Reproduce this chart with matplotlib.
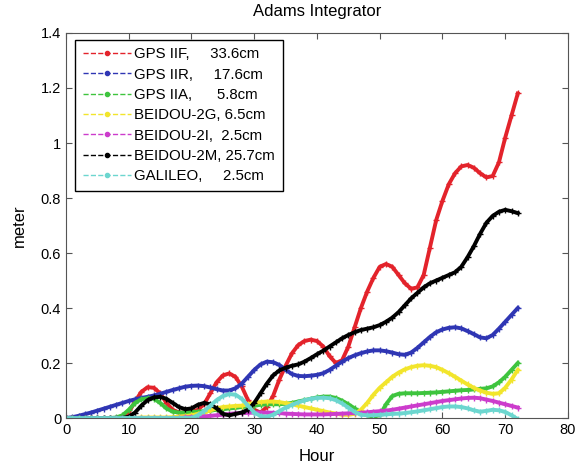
import numpy as np
import matplotlib
matplotlib.use("Agg")
import matplotlib.pyplot as plt
from matplotlib.lines import Line2D
from matplotlib.ticker import FormatStrFormatter

plt.rcParams['font.family'] = ['Liberation Sans', 'DejaVu Sans']

# hourly samples
hours = np.arange(0, 73)

gps_iif = [0, 0, 0, 0, 0, 0, 0, 0, 0, 0.005,
           0.02, 0.06, 0.095, 0.112, 0.11, 0.09, 0.055, 0.03, 0.02, 0.02,
           0.022, 0.03, 0.05, 0.09, 0.13, 0.155, 0.162, 0.15, 0.115, 0.065,
           0.03, 0.02, 0.04, 0.08, 0.14, 0.19, 0.235, 0.265, 0.28, 0.285,
           0.28, 0.26, 0.225, 0.2, 0.21, 0.26, 0.33, 0.40, 0.46, 0.51,
           0.55, 0.56, 0.55, 0.52, 0.49, 0.47, 0.475, 0.52, 0.62, 0.72,
           0.79, 0.85, 0.89, 0.915, 0.92, 0.91, 0.89, 0.875, 0.88, 0.93,
           1.02, 1.10, 1.18]

gps_iir = [0, 0.003, 0.008, 0.014, 0.02, 0.027, 0.034, 0.041, 0.048, 0.055,
           0.062, 0.068, 0.073, 0.077, 0.082, 0.088, 0.095, 0.102, 0.108, 0.114,
           0.117, 0.118, 0.116, 0.111, 0.105, 0.1, 0.1, 0.108, 0.125, 0.15,
           0.175, 0.195, 0.205, 0.203, 0.193, 0.175, 0.16, 0.153, 0.152, 0.154,
           0.157, 0.163, 0.175, 0.19, 0.205, 0.218, 0.228, 0.236, 0.242, 0.246,
           0.246, 0.243, 0.238, 0.232, 0.23, 0.238, 0.255, 0.275, 0.295, 0.312,
           0.322, 0.328, 0.33, 0.326, 0.316, 0.305, 0.293, 0.29, 0.302, 0.325,
           0.35, 0.375, 0.40]

gps_iia = [0, 0, 0, 0, 0, 0, 0, 0, 0.002, 0.01,
           0.03, 0.055, 0.068, 0.072, 0.07, 0.055, 0.035, 0.023, 0.02, 0.02,
           0.022, 0.023, 0.025, 0.027, 0.03, 0.032, 0.035, 0.037, 0.04, 0.042,
           0.045, 0.048, 0.05, 0.05, 0.05, 0.052, 0.055, 0.06, 0.065, 0.07,
           0.075, 0.078, 0.078, 0.073, 0.063, 0.05, 0.035, 0.02, 0.01, 0.005,
           0.01, 0.05, 0.08, 0.088, 0.09, 0.09, 0.09, 0.091, 0.092, 0.093,
           0.095, 0.097, 0.099, 0.101, 0.102, 0.104, 0.106, 0.108, 0.115, 0.13,
           0.15, 0.175, 0.2]

beidou_2g = [0, 0, 0, 0, 0, 0, 0, 0, 0, 0,
             0, 0, 0.002, 0.002, 0.002, 0.002, 0.002, 0.003, 0.005, 0.007,
             0.01, 0.015, 0.02, 0.028, 0.035, 0.04, 0.042, 0.044, 0.045, 0.05,
             0.055, 0.058, 0.06, 0.06, 0.058, 0.054, 0.05, 0.045, 0.04, 0.035,
             0.03, 0.025, 0.02, 0.016, 0.012, 0.012, 0.015, 0.03, 0.055, 0.085,
             0.11, 0.13, 0.15, 0.165, 0.177, 0.185, 0.19, 0.192, 0.19, 0.185,
             0.175, 0.163, 0.15, 0.136, 0.122, 0.11, 0.1, 0.092, 0.088, 0.09,
             0.11, 0.14, 0.175]

beidou_2i = [0, 0, 0, 0, 0, 0, 0, 0, 0, 0,
             0, 0, 0, 0, 0, 0, 0, 0, 0, 0.002,
             0.003, 0.005, 0.006, 0.008, 0.01, 0.012, 0.015, 0.017, 0.018, 0.019,
             0.02, 0.02, 0.02, 0.019, 0.018, 0.016, 0.015, 0.014, 0.013, 0.013,
             0.013, 0.013, 0.014, 0.015, 0.016, 0.017, 0.018, 0.019, 0.021, 0.023,
             0.025, 0.027, 0.03, 0.034, 0.038, 0.042, 0.046, 0.05, 0.054, 0.058,
             0.062, 0.065, 0.068, 0.071, 0.073, 0.074, 0.072, 0.067, 0.062, 0.056,
             0.05, 0.044, 0.038]

beidou_2m = [0, 0, 0, 0, 0, 0, 0, 0, 0, 0,
             0.005, 0.02, 0.045, 0.065, 0.075, 0.077, 0.07, 0.055, 0.04, 0.032,
             0.035, 0.048, 0.055, 0.05, 0.035, 0.015, 0.01, 0.015, 0.02, 0.03,
             0.055, 0.09, 0.125, 0.155, 0.173, 0.183, 0.19, 0.195, 0.205, 0.218,
             0.232, 0.245, 0.26, 0.275, 0.29, 0.302, 0.312, 0.32, 0.325, 0.33,
             0.338, 0.35, 0.365, 0.385, 0.41, 0.435, 0.455, 0.475, 0.49, 0.5,
             0.51, 0.52, 0.53, 0.55, 0.585, 0.625, 0.67, 0.71, 0.735, 0.75,
             0.757, 0.752, 0.745]

galileo = [0, 0, 0, 0, 0, 0, 0, 0, 0, 0,
           0, 0, 0, 0, 0, 0, 0, 0, 0, 0,
           0, 0.01, 0.025, 0.045, 0.065, 0.08, 0.087, 0.085, 0.07, 0.045,
           0.02, 0.007, 0.005, 0.012, 0.025, 0.038, 0.048, 0.057, 0.064, 0.07,
           0.073, 0.074, 0.072, 0.065, 0.053, 0.038, 0.022, 0.012, 0.01, 0.01,
           0.012, 0.013, 0.015, 0.016, 0.018, 0.021, 0.024, 0.028, 0.032, 0.036,
           0.04, 0.042, 0.042, 0.04, 0.035, 0.028, 0.023, 0.026, 0.03, 0.028,
           0.022, 0.01, -0.004]

labels = ['GPS IIF,     33.6cm', 'GPS IIR,     17.6cm', 'GPS IIA,      5.8cm',
          'BEIDOU-2G, 6.5cm', 'BEIDOU-2I,  2.5cm', 'BEIDOU-2M, 25.7cm',
          'GALILEO,     2.5cm']
colors = ['#e3232b', '#2f36b4', '#3ec43e', '#f2e52c', '#cc3ccc', '#000000', '#6cd6cf']
series = [gps_iif, gps_iir, gps_iia, beidou_2g, beidou_2i, beidou_2m, galileo]

fig = plt.figure(figsize=(5.81, 4.70), dpi=100)
ax = fig.add_axes([0.1136, 0.1106, 0.864, 0.8192])

handles = []
for y, c, lab in zip(series, colors, labels):
    ax.plot(hours, y, '-', color=c, lw=2.8, marker='+', ms=4, mew=1.0)
    handles.append(Line2D([], [], color=c, ls='--', lw=1.0, marker='.', ms=6, label=lab))

ax.set_xlim(0, 80)
ax.set_ylim(0, 1.4)
ax.set_xticks(np.arange(0, 81, 10))
ax.set_yticks(np.arange(0, 1.41, 0.2))
ax.yaxis.set_major_formatter(FormatStrFormatter('%g'))
ax.tick_params(direction='in', top=True, right=True, labelsize=10.5, length=4, color='#555555')
for s in ax.spines.values():
    s.set_color('#555555')

ax.set_xlabel('Hour', fontsize=12, labelpad=9)
ax.set_ylabel('meter', fontsize=12, labelpad=10)
ax.set_title('Adams Integrator', fontsize=12, pad=12)

leg = ax.legend(handles=handles, loc='upper left', bbox_to_anchor=(0.018, 0.982),
                borderaxespad=0, fontsize=10.8, handlelength=3.2, labelspacing=0.42,
                fancybox=False, framealpha=1, edgecolor='black', borderpad=0.5,
                handletextpad=0.25)
leg.get_frame().set_linewidth(1.0)

fig.savefig('out.png', dpi=100)
